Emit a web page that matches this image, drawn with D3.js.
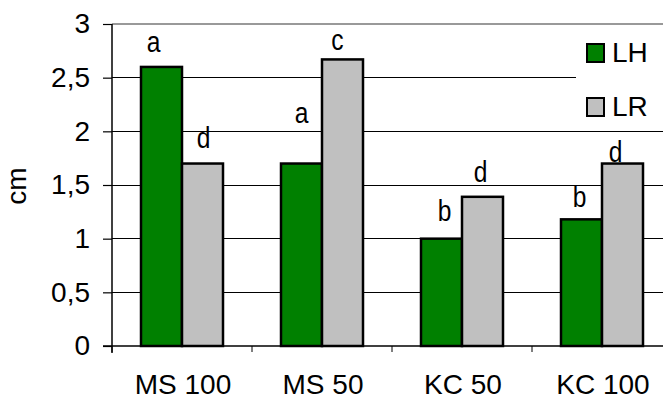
<!DOCTYPE html>
<html>
<head>
<meta charset="utf-8">
<script src="https://cdn.jsdelivr.net/npm/d3@7"></script>
<style>
  html, body { margin: 0; padding: 0; background: #fff; }
  svg { display: block; font-family: "Liberation Sans", Arial, sans-serif; }
</style>
</head>
<body>
<svg id="chart" width="663" height="400"></svg>
<script>
// Data
const categories = ["MS 100", "MS 50", "KC 50", "KC 100"];
const seriesNames = ["LH", "LR"];
const valuesLH = [2.6, 1.7, 1.0, 1.18];
const valuesLR = [1.7, 2.67, 1.39, 1.7];
const lettersLH = ["a", "a", "b", "b"];
const lettersLR = ["d", "c", "d", "d"];
const yTicks = [0, 0.5, 1, 1.5, 2, 2.5, 3];

// Layout and style
const colors = { LH: "#008000", LR: "#c0c0c0" };
const plot = { left: 112, right: 672, top: 24, bottom: 346 };
const barWidth = 41;
// hand placement of the significance letters (px offsets from bar top centre)
const nudgeLH = [[-8, -15], [0, -41], [3, -18], [-2, -12]];
const nudgeLR = [[1, -16], [-5, -9], [-2, -15], [-7, -2]];

const rows = categories.map((c, i) => ({
  cat: c,
  bars: [
    { key: "LH", value: valuesLH[i], letter: lettersLH[i], nudge: nudgeLH[i] },
    { key: "LR", value: valuesLR[i], letter: lettersLR[i], nudge: nudgeLR[i] }
  ]
}));

const svg = d3.select("#chart");

const y = d3.scaleLinear().domain([0, 3]).range([plot.bottom, plot.top]);
const x0 = d3.scaleBand().domain(categories).range([plot.left, plot.right]).padding(0);
const half = x0.bandwidth() / 2;
const x1 = d3.scaleBand().domain(seriesNames).range([half - barWidth, half + barWidth]).padding(0);

// gridlines
svg.append("g")
  .selectAll("line")
  .data(yTicks.filter(t => t > 0 && t < 3))
  .join("line")
  .attr("x1", plot.left).attr("x2", 663)
  .attr("y1", d => y(d)).attr("y2", d => y(d))
  .attr("stroke", "#000").attr("stroke-width", 1)
  .attr("shape-rendering", "crispEdges");

// top border of the plot area
svg.append("line")
  .attr("x1", plot.left).attr("x2", 663)
  .attr("y1", y(3)).attr("y2", y(3))
  .attr("stroke", "#999").attr("stroke-width", 2);

// bars
const groups = svg.append("g")
  .selectAll("g")
  .data(rows)
  .join("g")
  .attr("transform", d => `translate(${x0(d.cat)},0)`);

groups.selectAll("rect")
  .data(d => d.bars)
  .join("rect")
  .attr("x", d => x1(d.key))
  .attr("y", d => y(d.value))
  .attr("width", x1.bandwidth())
  .attr("height", d => y(0) - y(d.value))
  .attr("fill", d => colors[d.key])
  .attr("stroke", "#000")
  .attr("stroke-width", 2.5);

// significance letters
groups.selectAll("text")
  .data(d => d.bars)
  .join("text")
  .attr("transform", d =>
    `translate(${x1(d.key) + x1.bandwidth() / 2 + d.nudge[0]},${y(d.value) + d.nudge[1]}) scale(0.82,1)`)
  .attr("text-anchor", "middle")
  .attr("font-size", 30)
  .attr("fill", "#000")
  .text(d => d.letter);

// y axis
const yAxis = d3.axisLeft(y)
  .tickValues(yTicks)
  .tickSize(9)
  .tickPadding(13)
  .tickFormat(d => String(d).replace(".", ","));

const gy = svg.append("g")
  .attr("transform", `translate(${plot.left},0)`)
  .call(yAxis);
gy.select(".domain").remove();
gy.append("line")
  .attr("x1", 0).attr("x2", 0)
  .attr("y1", plot.top).attr("y2", plot.bottom + 7)
  .attr("stroke", "#000").attr("stroke-width", 1.5);
gy.selectAll(".tick line").attr("stroke", "#000").attr("stroke-width", 1.2);
gy.selectAll(".tick text")
  .attr("font-size", 28)
  .attr("font-family", "Liberation Sans, Arial, sans-serif")
  .attr("fill", "#000");

// x axis
const gx = svg.append("g")
  .attr("transform", `translate(0,${plot.bottom})`);
gx.append("line")
  .attr("x1", plot.left - 9).attr("x2", 663)
  .attr("y1", 0).attr("y2", 0)
  .attr("stroke", "#000").attr("stroke-width", 1.5);
gx.selectAll(".sep")
  .data(categories)
  .join("line")
  .attr("class", "sep")
  .attr("x1", d => x0(d)).attr("x2", d => x0(d))
  .attr("y1", 0).attr("y2", 6)
  .attr("stroke", "#000").attr("stroke-width", 1);
gx.selectAll(".cat")
  .data(categories)
  .join("text")
  .attr("class", "cat")
  .attr("x", d => x0(d) + half + 1)
  .attr("y", 48)
  .attr("text-anchor", "middle")
  .attr("font-size", 28)
  .attr("fill", "#000")
  .text(d => d);

// y axis title
svg.append("text")
  .attr("transform", "translate(26,186) rotate(-90)")
  .attr("text-anchor", "middle")
  .attr("font-size", 28)
  .attr("fill", "#000")
  .text("cm");

// legend
const legend = svg.append("g");
legend.append("rect")
  .attr("x", 576).attr("y", 26)
  .attr("width", 90).attr("height", 105)
  .attr("fill", "#fff");
const items = legend.selectAll("g.item")
  .data(seriesNames)
  .join("g")
  .attr("class", "item")
  .attr("transform", (d, i) => `translate(587,${44 + i * 54})`);
items.append("rect")
  .attr("width", 17).attr("height", 18)
  .attr("fill", d => colors[d])
  .attr("stroke", "#000")
  .attr("stroke-width", 2);
items.append("text")
  .attr("x", 25).attr("y", 18)
  .attr("font-size", 28)
  .attr("fill", "#000")
  .text(d => d);
</script>
</body>
</html>
